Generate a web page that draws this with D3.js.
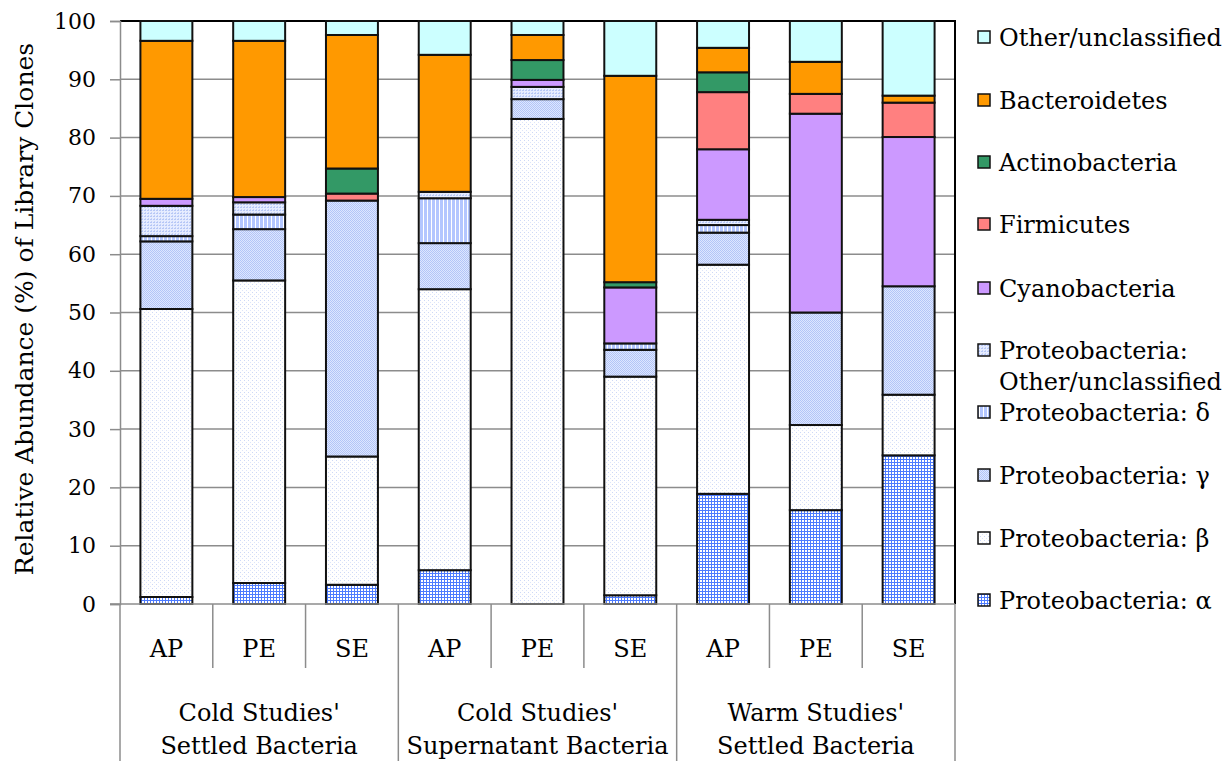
<!DOCTYPE html>
<html>
<head>
<meta charset="utf-8">
<script src="https://cdn.jsdelivr.net/npm/d3@7"></script>
<style>
  html, body { margin: 0; padding: 0; background: #fff; }
  svg { display: block; }
  text { font-family: "DejaVu Serif", "Liberation Serif", serif; fill: #000; }
</style>
</head>
<body>
<svg id="chart" width="1225" height="761"></svg>
<script>
// Sample groups and fractions
const groupLabels = [
  ["Cold Studies'", "Settled Bacteria"],
  ["Cold Studies'", "Supernatant Bacteria"],
  ["Warm Studies'", "Settled Bacteria"]
];
const categories = ["AP", "PE", "SE", "AP", "PE", "SE", "AP", "PE", "SE"];
const yTicks = [0, 10, 20, 30, 40, 50, 60, 70, 80, 90, 100];

// Relative abundance (%) per library, stacked bottom to top
const alpha         = [1.2, 3.6, 3.3, 5.8, 0, 1.5, 18.9, 16.1, 25.5];
const beta          = [49.4, 51.9, 22.0, 48.2, 83.2, 37.5, 39.3, 14.6, 10.4];
const gamma         = [11.6, 8.8, 43.9, 7.9, 3.4, 4.6, 5.5, 19.3, 18.6];
const delta         = [0.9, 2.5, 0, 7.7, 0, 1.1, 1.3, 0, 0];
const proteoOther   = [5.2, 2.1, 0, 1.1, 2.1, 0, 0.9, 0, 0];
const cyanobacteria = [1.2, 0.9, 0, 0, 1.2, 9.6, 12.1, 34.1, 25.6];
const firmicutes    = [0, 0, 1.2, 0, 0, 0, 9.8, 3.4, 5.9];
const actinobacteria= [0, 0, 4.3, 0, 3.4, 0.9, 3.4, 0, 0];
const bacteroidetes = [27.1, 26.8, 22.9, 23.5, 4.3, 35.4, 4.2, 5.5, 1.2];
const otherUnclass  = [3.4, 3.4, 2.4, 5.8, 2.4, 9.4, 4.6, 7.0, 12.8];

const seriesNames = [
  "Proteobacteria: α", "Proteobacteria: β", "Proteobacteria: γ", "Proteobacteria: δ",
  "Proteobacteria: Other/unclassified", "Cyanobacteria", "Firmicutes",
  "Actinobacteria", "Bacteroidetes", "Other/unclassified"
];
const seriesValues = [alpha, beta, gamma, delta, proteoOther, cyanobacteria,
  firmicutes, actinobacteria, bacteroidetes, otherUnclass];
const fills = ["url(#pAlpha)", "url(#pBeta)", "url(#pGamma)", "url(#pDelta)", "url(#pPO)",
  "#cc99ff", "#ff8080", "#339966", "#ff9900", "#ccffff"];
// Legend rows (top to bottom), each with its label lines
const legendRows = [
  { s: 9, lines: ["Other/unclassified"] },
  { s: 8, lines: ["Bacteroidetes"] },
  { s: 7, lines: ["Actinobacteria"] },
  { s: 6, lines: ["Firmicutes"] },
  { s: 5, lines: ["Cyanobacteria"] },
  { s: 4, lines: ["Proteobacteria:", "Other/unclassified"] },
  { s: 3, lines: ["Proteobacteria: δ"] },
  { s: 2, lines: ["Proteobacteria: γ"] },
  { s: 1, lines: ["Proteobacteria: β"] },
  { s: 0, lines: ["Proteobacteria: α"] }
];

const rows = categories.map((c, i) => {
  const r = { idx: i };
  seriesNames.forEach((n, k) => r[n] = seriesValues[k][i]);
  return r;
});
const stacked = d3.stack().keys(seriesNames)(rows);

const svg = d3.select("#chart");
const defs = svg.append("defs");

// Fill patterns for the Proteobacteria classes
function pattern(id, w, h, bg, draw) {
  const p = defs.append("pattern").attr("id", id).attr("patternUnits", "userSpaceOnUse")
    .attr("width", w).attr("height", h);
  p.append("rect").attr("width", w).attr("height", h).attr("fill", bg);
  draw(p);
}
pattern("pAlpha", 3, 3, "#ffffff", p => {
  p.append("rect").attr("x", 0).attr("y", 0).attr("width", 3).attr("height", 1).attr("fill", "#4d7bff");
  p.append("rect").attr("x", 0).attr("y", 0).attr("width", 1).attr("height", 3).attr("fill", "#4d7bff");
});
pattern("pBeta", 4, 4, "#ffffff", p => {
  p.append("rect").attr("x", 0).attr("y", 0).attr("width", 1).attr("height", 1).attr("fill", "#cdd8f6");
  p.append("rect").attr("x", 2).attr("y", 2).attr("width", 1).attr("height", 1).attr("fill", "#dde5fa");
});
pattern("pGamma", 2, 2, "#dde6ff", p => {
  p.append("rect").attr("x", 0).attr("y", 0).attr("width", 1).attr("height", 1).attr("fill", "#b3c5f7");
  p.append("rect").attr("x", 1).attr("y", 1).attr("width", 1).attr("height", 1).attr("fill", "#b3c5f7");
});
pattern("pDelta", 4, 4, "#b3c6ff", p => {
  p.append("rect").attr("x", 3).attr("y", 0).attr("width", 1).attr("height", 4).attr("fill", "#ffffff");
});
pattern("pPO", 3, 3, "#e6ecff", p => {
  p.append("rect").attr("x", 0).attr("y", 0).attr("width", 2).attr("height", 1).attr("fill", "#b6c7f6");
  p.append("rect").attr("x", 1).attr("y", 2).attr("width", 1).attr("height", 1).attr("fill", "#c3d1f8");
});

const plotLeft = 120, plotRight = 955, plotTop = 21, plotBottom = 604;
const x = d3.scaleBand().domain(d3.range(categories.length)).range([plotLeft, plotRight]).paddingInner(0.44).paddingOuter(0.22);
const band = d3.scaleBand().domain(d3.range(categories.length)).range([plotLeft, plotRight]);
const y = d3.scaleLinear().domain([0, 100]).range([plotBottom, plotTop]);

// Gridlines
svg.append("g").selectAll("line").data(yTicks.slice(1, -1)).join("line")
  .attr("x1", plotLeft).attr("x2", plotRight)
  .attr("y1", d => y(d)).attr("y2", d => y(d))
  .attr("stroke", "#8c8c8c").attr("stroke-width", 1.5);

// Plot frame: top and right edges
svg.append("path")
  .attr("d", `M${plotLeft},${y(100)}H${plotRight}V${plotBottom}`)
  .attr("fill", "none").attr("stroke", "#000").attr("stroke-width", 2);

// Stacked bars
const layers = svg.append("g").selectAll("g").data(stacked).join("g")
  .attr("fill", (d, i) => fills[i]);
layers.selectAll("rect").data(d => d.filter(s => s[1] - s[0] > 0)).join("rect")
  .attr("x", d => x(d.data.idx))
  .attr("width", x.bandwidth())
  .attr("y", d => y(d[1]))
  .attr("height", d => y(d[0]) - y(d[1]))
  .attr("stroke", "#111").attr("stroke-width", 2);

// Y axis
const yAxis = d3.axisLeft(y).tickValues(yTicks).tickSize(10).tickPadding(14).tickFormat(d3.format("d"));
const gy = svg.append("g").attr("transform", `translate(${plotLeft},0)`).call(yAxis);
gy.select(".domain").attr("stroke", "#8c8c8c").attr("stroke-width", 1.5);
gy.selectAll(".tick line").attr("stroke", "#8c8c8c").attr("stroke-width", 1.5);
gy.selectAll(".tick text").style("font-family", "DejaVu Serif").style("font-size", "22px").attr("fill", "#000");

// Category axis with fraction labels and study groups
const gx = svg.append("g");
gx.append("line").attr("x1", 110).attr("x2", plotRight).attr("y1", plotBottom).attr("y2", plotBottom)
  .attr("stroke", "#8c8c8c").attr("stroke-width", 1.5);
const dividers = d3.range(categories.length + 1);
gx.selectAll("line.div").data(dividers).join("line").attr("class", "div")
  .attr("x1", i => i < categories.length ? band(i) : plotRight)
  .attr("x2", i => i < categories.length ? band(i) : plotRight)
  .attr("y1", plotBottom)
  .attr("y2", i => i % 3 === 0 ? 761 : 668)
  .attr("stroke", "#8c8c8c").attr("stroke-width", 1.5);
gx.selectAll("text.cat").data(categories).join("text").attr("class", "cat")
  .attr("x", (d, i) => band(i) + band.bandwidth() / 2)
  .attr("y", 657)
  .attr("text-anchor", "middle")
  .style("font-size", "24px")
  .text(d => d);
groupLabels.forEach((lines, g) => {
  const cx = (band(g * 3) + band(g * 3 + 2) + band.bandwidth()) / 2;
  lines.forEach((ln, j) => {
    gx.append("text").attr("x", cx).attr("y", 721 + j * 33)
      .attr("text-anchor", "middle").style("font-size", "24px").text(ln);
  });
});

// Y axis title
svg.append("text")
  .attr("transform", "translate(33,309) rotate(-90)")
  .attr("text-anchor", "middle")
  .style("font-size", "25px")
  .text("Relative Abundance (%) of Library Clones");

// Legend
const legendY = [37, 100, 162, 224, 288, 350, 412, 475, 538, 600];
const lg = svg.append("g");
legendRows.forEach((r, i) => {
  const cy = legendY[i];
  lg.append("rect").attr("x", 978).attr("y", cy - 6).attr("width", 12).attr("height", 12)
    .attr("fill", fills[r.s]).attr("stroke", "#111").attr("stroke-width", 1.5);
  r.lines.forEach((ln, j) => {
    lg.append("text").attr("x", 999).attr("y", cy + 9 + j * 31)
      .style("font-size", "24px").text(ln);
  });
});
</script>
</body>
</html>
